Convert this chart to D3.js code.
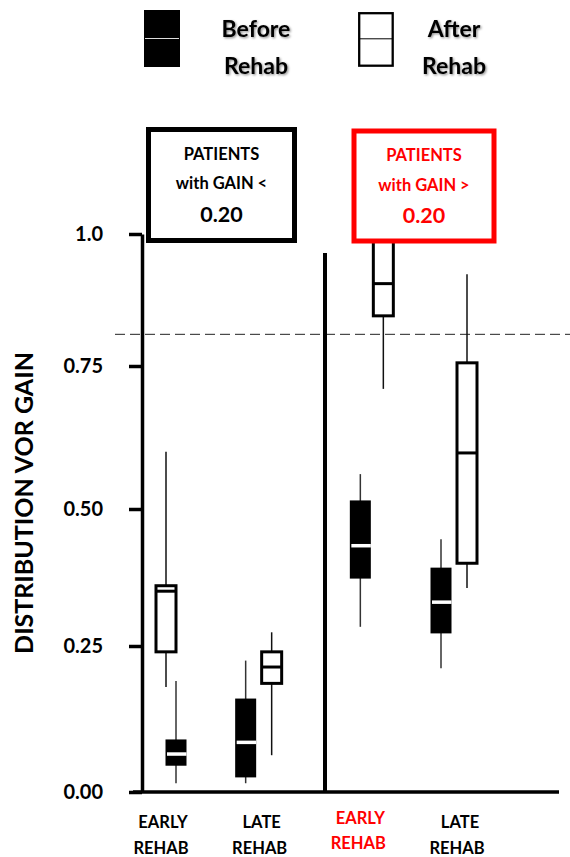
<!DOCTYPE html>
<html><head><meta charset="utf-8">
<script src="https://cdn.jsdelivr.net/npm/d3@7"></script>
<style>
html,body{margin:0;padding:0;background:#fff;}
svg{display:block;font-family:Lato,"Open Sans",sans-serif;font-weight:700;}
</style></head><body>
<svg id="chart" width="570" height="857"></svg>
<script>
// ---------------- data ----------------
const groups = ["EARLY_LOW", "LATE_LOW", "EARLY_HIGH", "LATE_HIGH"];
const groupLabels = [["EARLY", "REHAB"], ["LATE", "REHAB"], ["EARLY", "REHAB"], ["LATE", "REHAB"]];
const seriesNames = ["Before", "After"];
const legendLabels = [["Before", "Rehab"], ["After", "Rehab"]];
// each entry: [whisker low, Q1, median, Q3, whisker high]
const beforeStats = [
  [0.015, 0.045, 0.065, 0.090, 0.190],
  [0.015, 0.025, 0.085, 0.160, 0.225],
  [0.285, 0.373, 0.433, 0.515, 0.561],
  [0.212, 0.273, 0.330, 0.393, 0.445]
];
const afterStats = [
  [0.180, 0.240, 0.350, 0.360, 0.600],
  [0.063, 0.186, 0.214, 0.240, 0.275],
  [0.710, 0.845, 0.906, 1.000, 1.000],
  [0.356, 0.401, 0.598, 0.756, 0.924]
];
const yTickValues = [0, 0.25, 0.5, 0.75, 1.0];
const yTickLabels = ["0.00", "0.25", "0.50", "0.75", "1.0"];
const threshold = 0.81;
const panelTitles = [["PATIENTS", "with GAIN <", "0.20"], ["PATIENTS", "with GAIN >", "0.20"]];
const yTitle = "DISTRIBUTION VOR GAIN";

// ---------------- layout ----------------
const W = 570, H = 857;
const yRange = [792, 646, 509, 366, 234];   // axis as drawn in the original (uneven spacing)
const axisX = 142, axisRight = 559, dividerX = 325, dividerTop = 253;
const boxW = { Before: 21, After: 20 };
const nudge = { Before: [13, -16, 0, -18], After: [3, 10, 23, 8] };
const RED = "#ff0000";

const svg = d3.select("#chart");
svg.append("rect").attr("width", W).attr("height", H).attr("fill", "#fff");

const defs = svg.append("defs");
const f = defs.append("filter").attr("id", "shadow").attr("x", "-20%").attr("y", "-30%").attr("width", "140%").attr("height", "160%");
f.append("feDropShadow").attr("dx", 1.2).attr("dy", 1.2).attr("stdDeviation", 1.2)
  .attr("flood-color", "#000").attr("flood-opacity", 0.45);

const y = d3.scaleLinear().domain(yTickValues).range(yRange);
const x = d3.scalePoint().domain(groups).range([163, 459]);

// dashed threshold line
svg.append("line")
  .attr("x1", 115).attr("x2", W).attr("y1", y(threshold)).attr("y2", y(threshold))
  .attr("stroke", "#222").attr("stroke-width", 1).attr("stroke-dasharray", "10,5");

// y axis
const yAxis = d3.axisLeft(y).tickValues(yTickValues)
  .tickFormat((d, i) => yTickLabels[i]).tickSize(13).tickSizeOuter(0).tickPadding(26);
const gy = svg.append("g").attr("transform", `translate(${axisX},0)`).call(yAxis);
gy.select(".domain").attr("stroke", "#000").attr("stroke-width", 3.5);
gy.selectAll(".tick line").attr("stroke", "#000").attr("stroke-width", 3.5);
gy.selectAll(".tick text").attr("fill", "#000").attr("font-size", 20)
  .attr("font-family", "Lato, 'Open Sans', sans-serif").attr("font-weight", 700);

// x baseline
svg.append("line").attr("x1", 133).attr("x2", axisRight).attr("y1", y(0)).attr("y2", y(0))
  .attr("stroke", "#000").attr("stroke-width", 3.5);
// divider
svg.append("line").attr("x1", dividerX).attr("x2", dividerX).attr("y1", dividerTop).attr("y2", y(0))
  .attr("stroke", "#000").attr("stroke-width", 4);

// y title
svg.append("text").attr("transform", `translate(33,503) rotate(-90)`)
  .attr("text-anchor", "middle").attr("font-size", 25).attr("fill", "#000").text(yTitle);

// boxes
const boxes = [];
groups.forEach((g, i) => {
  boxes.push({ g, i, s: "Before", v: beforeStats[i] });
  boxes.push({ g, i, s: "After", v: afterStats[i] });
});
boxes.forEach(b => {
  const cx = x(b.g) + nudge[b.s][b.i];
  const [lo, q1, med, q3, hi] = b.v;
  const w = boxW[b.s];
  const gb = svg.append("g");
  gb.append("line").attr("x1", cx).attr("x2", cx).attr("y1", y(hi)).attr("y2", y(lo))
    .attr("stroke", b.s === "Before" ? "#333" : "#111").attr("stroke-width", 1.5);
  if (b.s === "Before") {
    gb.append("rect").attr("x", cx - w / 2).attr("y", y(q3)).attr("width", w).attr("height", y(q1) - y(q3))
      .attr("fill", "#000");
    gb.append("line").attr("x1", cx - w / 2 + 1.5).attr("x2", cx + w / 2).attr("y1", y(med)).attr("y2", y(med))
      .attr("stroke", "#fff").attr("stroke-width", 3.5);
  } else {
    gb.append("rect").attr("x", cx - w / 2).attr("y", y(q3)).attr("width", w).attr("height", y(q1) - y(q3))
      .attr("fill", "#fff").attr("stroke", "#000").attr("stroke-width", 3);
    gb.append("line").attr("x1", cx - w / 2).attr("x2", cx + w / 2).attr("y1", y(med)).attr("y2", y(med))
      .attr("stroke", "#000").attr("stroke-width", 3);
  }
});

// panel title boxes
const panels = [
  { x: 148.5, y: 129.5, w: 146, h: 111, color: "#000", cx: 221.5 },
  { x: 354, y: 131, w: 140, h: 110, color: RED, cx: 424 }
];
panels.forEach((p, i) => {
  svg.append("rect").attr("x", p.x).attr("y", p.y).attr("width", p.w).attr("height", p.h)
    .attr("fill", "#fff").attr("stroke", p.color).attr("stroke-width", 5);
  const t = panelTitles[i];
  const base = i === 0 ? [159.5, 189, 221.5] : [160.5, 190.5, 222.5];
  svg.append("text").attr("x", p.cx).attr("y", base[0]).attr("text-anchor", "middle")
    .attr("font-size", 16.5).attr("fill", p.color).text(t[0]);
  svg.append("text").attr("x", p.cx).attr("y", base[1]).attr("text-anchor", "middle")
    .attr("font-size", 16.5).attr("fill", p.color).text(t[1]);
  svg.append("text").attr("x", p.cx).attr("y", base[2]).attr("text-anchor", "middle")
    .attr("font-size", 21.5).attr("fill", p.color).text(t[2]);
});

// group labels
groups.forEach((g, i) => {
  const red = i === 2;
  const b = red ? [823.5, 849] : [827.5, 853.5];
  const t = svg.append("text").attr("text-anchor", "middle").attr("font-size", 16.5)
    .attr("fill", red ? RED : "#000");
  t.append("tspan").attr("x", x(g) + (i === 3 ? 1 : 0)).attr("y", b[0]).text(groupLabels[i][0]);
  t.append("tspan").attr("x", x(g) - 2).attr("y", b[1]).text(groupLabels[i][1]);
});

// legend
const lg = svg.append("g");
lg.append("rect").attr("x", 144).attr("y", 10).attr("width", 36).attr("height", 57).attr("fill", "#000");
lg.append("line").attr("x1", 145).attr("x2", 179).attr("y1", 38.5).attr("y2", 38.5).attr("stroke", "#ddd").attr("stroke-width", 1.2);
lg.append("rect").attr("x", 359.2).attr("y", 13.2).attr("width", 33.5).attr("height", 52.5)
  .attr("fill", "#fff").attr("stroke", "#000").attr("stroke-width", 2.3);
lg.append("line").attr("x1", 359).attr("x2", 393).attr("y1", 38.8).attr("y2", 38.8).attr("stroke", "#000").attr("stroke-width", 1);
const legendX = [256, 454];
seriesNames.forEach((s, i) => {
  lg.append("text").attr("x", legendX[i]).attr("y", 37).attr("text-anchor", "middle")
    .attr("font-size", 23).attr("fill", "#000").attr("filter", "url(#shadow)").text(legendLabels[i][0]);
  lg.append("text").attr("x", legendX[i]).attr("y", 74).attr("text-anchor", "middle")
    .attr("font-size", 23).attr("fill", "#000").attr("filter", "url(#shadow)").text(legendLabels[i][1]);
});
</script>
</body></html>
